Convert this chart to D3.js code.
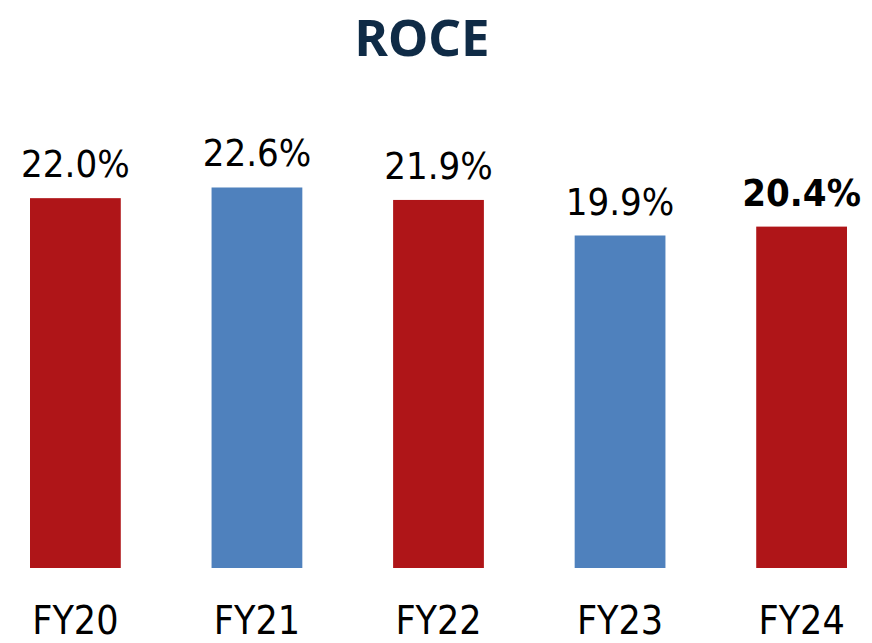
<!DOCTYPE html>
<html>
<head>
<meta charset="utf-8">
<script src="https://cdnjs.cloudflare.com/ajax/libs/d3/7.8.5/d3.min.js"></script>
<style>
  body { margin: 0; background: #fff; }
</style>
</head>
<body>
<div id="chartArea"></div>
<script>
// data
var years = ["FY20", "FY21", "FY22", "FY23", "FY24"];
var roce = [22.0, 22.6, 21.9, 19.9, 20.4];
var barColors = ["#af1518", "#4f81bd", "#af1518", "#4f81bd", "#af1518"];
var boldLabel = [false, false, false, false, true];

var width = 872, height = 643;

var svg = d3.select("#chartArea").append("svg")
    .attr("width", width)
    .attr("height", height);

// scales
var x = d3.scaleBand()
    .domain(years)
    .range([30, 847])
    .paddingInner(0.5)
    .paddingOuter(0);

var y = d3.scaleLinear()
    .domain([1.2, 24])
    .range([568, 162.6]);

var data = years.map(function(d, i) {
    return { year: d, value: roce[i], color: barColors[i], bold: boldLabel[i] };
});

// title
svg.append("text")
    .attr("x", 422)
    .attr("y", 56)
    .attr("text-anchor", "middle")
    .style("font-family", "'Noto Sans', 'Open Sans', sans-serif")
    .style("font-weight", "bold")
    .style("font-size", "51px")
    .style("fill", "#0f2b46")
    .text("ROCE");

// bars
svg.selectAll("rect.bar")
    .data(data)
    .enter().append("rect")
    .attr("class", "bar")
    .attr("x", function(d) { return x(d.year); })
    .attr("width", x.bandwidth())
    .attr("y", function(d) { return y(d.value); })
    .attr("height", function(d) { return y.range()[0] - y(d.value); })
    .style("fill", function(d) { return d.color; });

// value labels
svg.selectAll("text.val")
    .data(data)
    .enter().append("text")
    .attr("class", "val")
    .attr("x", function(d) { return x(d.year) + x.bandwidth() / 2; })
    .attr("y", function(d) { return y(d.value) - 21; })
    .attr("text-anchor", "middle")
    .style("font-family", "'DejaVu Sans Condensed', 'DejaVu Sans', sans-serif")
    .style("font-stretch", "condensed")
    .style("font-size", "38px")
    .style("font-weight", function(d) { return d.bold ? "bold" : "normal"; })
    .style("fill", "#000")
    .text(function(d) { return d.value.toFixed(1) + "%"; });

// x axis labels
var xAxis = d3.axisBottom(x).tickSize(0).tickPadding(0);
var gx = svg.append("g")
    .attr("transform", "translate(0,568)")
    .call(xAxis);
gx.select(".domain").remove();
gx.selectAll("text")
    .attr("y", 66)
    .attr("dy", 0)
    .style("font-family", "'DejaVu Sans Condensed', 'DejaVu Sans', sans-serif")
    .style("font-stretch", "condensed")
    .style("font-size", "39px")
    .style("fill", "#000");
</script>
</body>
</html>
